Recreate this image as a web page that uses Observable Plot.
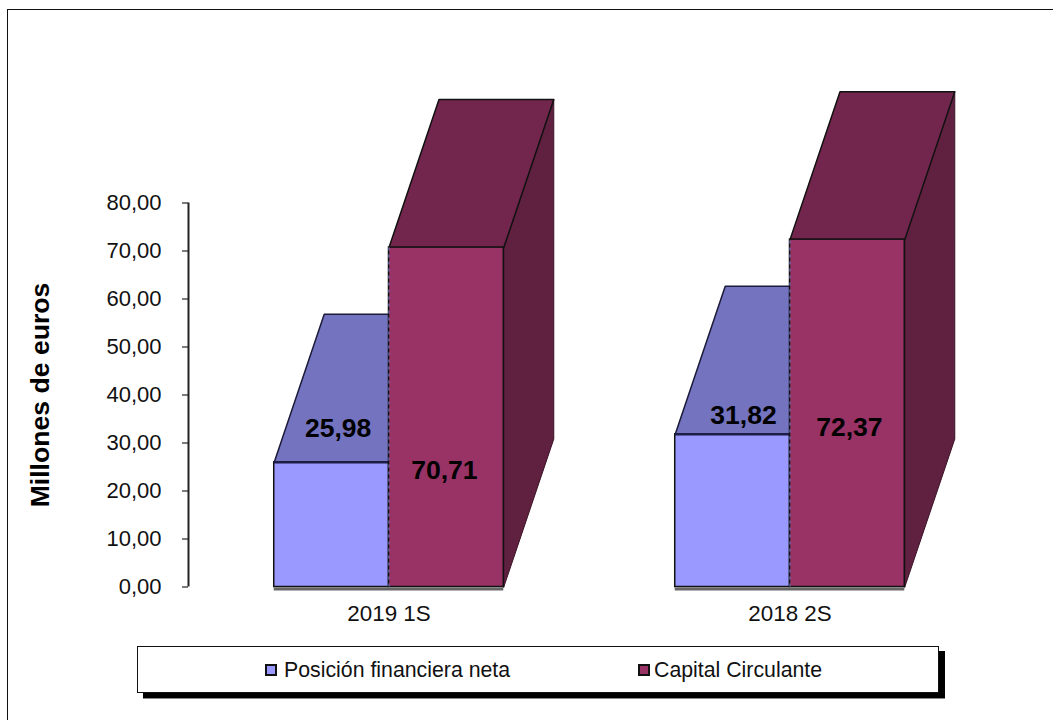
<!DOCTYPE html>
<html>
<head>
<meta charset="utf-8">
<script src="https://cdn.jsdelivr.net/npm/d3@7"></script>
<script src="https://cdn.jsdelivr.net/npm/@observablehq/plot@0.6"></script>
<style>
  html, body { margin: 0; padding: 0; background: #fff; overflow: hidden; }
  body { width: 1053px; height: 720px; position: relative; font-family: "Liberation Sans", Arial, sans-serif; }
  #frame { position: absolute; left: 7px; top: 9px; right: 0; bottom: 0; border-left: 1.5px solid #111; border-top: 1.5px solid #111; }
  #chart { position: absolute; left: 0; top: 0; }
  #chart svg { display: block; overflow: visible; }
  #legend { position: absolute; left: 137px; top: 646px; width: 800px; height: 45px; background: #fff; border: 1px solid #111;
            box-shadow: 6px 5px 0 #000, 6px 6px 0 #888; color: #111; font-size: 21.3px; }
  .sw { position: absolute; top: 17px; width: 8px; height: 8px; border: 2.5px solid #111; }
  .lb { position: absolute; top: 11px; line-height: 24px; white-space: nowrap; }
</style>
</head>
<body>
<div id="frame"></div>
<div id="chart"></div>
<div id="legend">
  <span class="sw" style="left:127px;background:#9999ff"></span><span class="lb" style="left:146px">Posición financiera neta</span>
  <span class="sw" style="left:500px;background:#993366"></span><span class="lb" style="left:516px">Capital Circulante</span>
</div>
<script>
// Data
const periods = ["2019 1S", "2018 2S"];
const posicion = [25.98, 31.82];
const capital = [70.71, 72.37];
const yTicks = [0, 10, 20, 30, 40, 50, 60, 70, 80];
const seriesNames = ["Posición financiera neta", "Capital Circulante"];

// Drawing constants (data units of the x and y scales)
const halfWidth = 0.2862;
const depthX = 0.1247;
const depthY = 30.83;
const labelSpot = {
  posicion: {x: [-0.127, -0.116], y: [33.1, 35.7]},
  capital: {x: [0.138, 0.148], y: [24.3, 33.3]}
};

const comma = v => d3.format(".2f")(v).replace(".", ",");

const polygon = (pts, z) => [...pts, pts[0]].map(([x, y]) => ({x, y, z}));
const topFace = (x0, x1, v, z) => polygon([[x0, v], [x0 + depthX, v + depthY], [x1 + depthX, v + depthY], [x1, v]], z);
const sideFace = (x1, v, z) => polygon([[x1, 0], [x1, v], [x1 + depthX, v + depthY], [x1 + depthX, depthY]], z);

const purpleTop = periods.flatMap((p, i) => topFace(i - halfWidth, i, posicion[i], p));
const maroonTop = periods.flatMap((p, i) => topFace(i, i + halfWidth, capital[i], p));
const maroonSide = periods.flatMap((p, i) => sideFace(i + halfWidth, capital[i], p));

const purpleFront = periods.map((p, i) => ({x1: i - halfWidth, x2: i, y2: posicion[i]}));
const maroonFront = periods.map((p, i) => ({x1: i, x2: i + halfWidth, y2: capital[i]}));
const footprint = periods.map((p, i) => ({x1: i - halfWidth, x2: i + halfWidth}));
const boundaries = periods.map((p, i) => ({x: i, y2: capital[i]}));

const labels = [
  ...periods.map((p, i) => ({x: i + labelSpot.posicion.x[i], y: labelSpot.posicion.y[i], t: comma(posicion[i])})),
  ...periods.map((p, i) => ({x: i + labelSpot.capital.x[i], y: labelSpot.capital.y[i], t: comma(capital[i])}))
];

const chart = Plot.plot({
  width: 1053,
  height: 640,
  marginTop: 0, marginRight: 0, marginBottom: 0, marginLeft: 188,
  style: {fontFamily: "'Liberation Sans', Arial, sans-serif", background: "transparent", overflow: "visible"},
  x: {domain: [-0.5, 1.5], range: [188, 990], axis: null},
  y: {domain: [0, 80], range: [586.5, 202.5], axis: null},
  marks: [
    // bar footprint shadow
    Plot.ruleY(footprint, {x1: "x1", x2: "x2", y: () => 0, stroke: "#666", strokeWidth: 3, dy: 2}),
    // purple block
    Plot.line(purpleTop, {x: "x", y: "y", z: "z", fill: "#7373bf", stroke: "#1b1b3a", strokeWidth: 1.5, curve: "linear"}),
    Plot.rectY(purpleFront, {x1: "x1", x2: "x2", y1: 0, y2: "y2", fill: "#9999ff", stroke: "#111", strokeWidth: 1.5}),
    // thick top edge of purple front
    Plot.ruleY(purpleFront, {x1: "x1", x2: "x2", y: "y2", stroke: "#1d1d45", strokeWidth: 2.4}),
    // maroon block
    Plot.line(maroonSide, {x: "x", y: "y", z: "z", fill: "#60203f", stroke: "#3a1226", strokeWidth: 1, curve: "linear"}),
    Plot.line(maroonTop, {x: "x", y: "y", z: "z", fill: "#73264d", stroke: "#111", strokeWidth: 1.5, curve: "linear"}),
    Plot.rectY(maroonFront, {x1: "x1", x2: "x2", y1: 0, y2: "y2", fill: "#993366", stroke: "#111", strokeWidth: 1.5}),
    // dashed seam between the blocks
    Plot.ruleX(boundaries, {x: "x", y1: 0, y2: "y2", stroke: "#7373bf", strokeWidth: 1.2, strokeDasharray: "3,4"}),
    // value labels
    Plot.text(labels, {x: "x", y: "y", text: "t", fontSize: 26.5, fontWeight: "bold", fill: "#000"}),
    // y axis
    Plot.ruleX([-0.5], {x: d => d, y1: 0, y2: 80, stroke: "#222", strokeWidth: 2}),
    Plot.axisY({
      ticks: yTicks, tickFormat: comma, anchor: "left", tickSize: 6, tickPadding: 21,
      fontSize: 22, stroke: "#222", strokeWidth: 1.2, color: "#111", label: null
    }),
    // x tick labels
    Plot.text(periods, {x: (d, i) => i, y: () => 0, text: d => d, dy: 26.5, fontSize: 22.4, fill: "#111"}),
    // y title
    Plot.text(["Millones de euros"], {x: () => -0.5, y: () => 40, dx: -148, rotate: -90, text: d => d, fontSize: 26.6, fontWeight: "bold", fill: "#000"})
  ]
});
document.getElementById("chart").appendChild(chart);
</script>
</body>
</html>
